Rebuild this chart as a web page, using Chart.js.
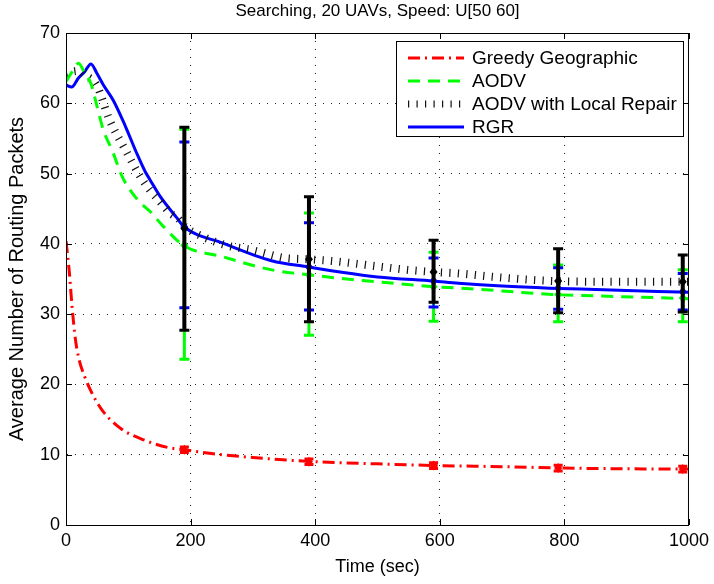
<!DOCTYPE html>
<html>
<head>
<meta charset="utf-8">
<script src="https://cdn.jsdelivr.net/npm/chart.js@4.4.1/dist/chart.umd.min.js"></script>
<style>
  html, body { margin: 0; padding: 0; background: #fff; }
</style>
</head>
<body>
<canvas id="canva" width="714" height="584"></canvas>
<script>
// values
var titleText = 'Searching, 20 UAVs, Speed: U[50 60]';
var xTicks = [0, 200, 400, 600, 800, 1000];
var yTicks = [0, 10, 20, 30, 40, 50, 60, 70];

var greedyT = [0, 5, 10, 15, 20, 30, 45, 60, 90, 125, 165, 190, 240, 300, 400, 500, 600, 700, 800, 900, 1000];
var greedyY = [40.4, 36.3, 30.8, 26.5, 23.9, 21.1, 18.2, 16.1, 13.6, 12.1, 11.0, 10.7, 10.1, 9.6, 9.0, 8.7, 8.45, 8.3, 8.1, 8.0, 7.95];

var aodvT = [0, 10, 20, 30, 40, 50, 60, 75, 90, 105, 120, 135, 155, 190, 250, 330, 390, 440, 500, 590, 630, 700, 780, 850, 1000];
var aodvY = [63.1, 64.5, 65.7, 64.3, 62.8, 59.5, 56.2, 53.1, 49.6, 47.4, 45.8, 44.6, 42.6, 39.7, 38.2, 36.3, 35.6, 35.1, 34.6, 33.9, 33.7, 33.3, 32.8, 32.6, 32.2];

var repairT = [0, 10, 20, 30, 49, 70, 97, 119, 135, 151, 167, 180, 190, 220, 257, 300, 322, 351, 391, 434, 500, 548, 590, 629, 700, 786, 900, 1000];
var repairY = [64.3, 64.5, 64.6, 64.0, 62.6, 57.6, 53.1, 49.6, 47.6, 46.0, 44.4, 43.6, 42.5, 41.0, 39.8, 39.1, 38.6, 38.0, 37.8, 37.5, 36.8, 36.3, 36.0, 35.8, 35.2, 34.7, 34.6, 34.6];

var rgrT = [0, 9, 20, 30, 40, 50, 60, 76, 95, 113, 127, 135, 150, 177, 190, 252, 330, 390, 440, 500, 590, 630, 700, 776, 850, 1000];
var rgrY = [62.6, 62.3, 63.6, 64.5, 65.6, 64.2, 62.6, 60.4, 56.8, 53.0, 50.3, 49.1, 46.9, 43.8, 42.4, 40.1, 37.6, 36.7, 36.0, 35.3, 34.7, 34.4, 34.0, 33.7, 33.5, 33.1];

// error bars
var errT = [190, 390, 590, 790, 990];
var greedyLo = [10.3, 8.6, 8.05, 7.7, 7.55];
var greedyHi = [11.1, 9.4, 8.85, 8.5, 8.35];
var greedyMid = [10.7, 9.0, 8.45, 8.1, 7.95];
var aodvLo = [23.6, 27.0, 29.0, 28.9, 28.9];
var aodvHi = [56.3, 44.4, 38.8, 37.0, 36.3];
var aodvMid = [39.8, 35.6, 33.9, 32.8, 32.3];
var repairLo = [27.7, 28.9, 31.7, 30.2, 30.3];
var repairHi = [56.6, 46.7, 40.5, 39.3, 38.4];
var repairMid = [42.2, 37.8, 36.0, 34.7, 34.6];
var rgrLo = [30.9, 30.6, 31.0, 30.7, 30.6];
var rgrHi = [54.5, 43.0, 38.0, 36.6, 35.8];
var rgrMid = [42.4, 36.7, 34.7, 33.7, 33.2];

var FONT = 'Liberation Sans, Arial, Helvetica, sans-serif';

function pts(t, y) {
  return t.map(function (v, i) { return { x: v, y: y[i] }; });
}

var series = [
  { label: 'Greedy Geographic', color: '#ff0000', dash: [12, 5, 2, 5], width: 3, data: pts(greedyT, greedyY) },
  { label: 'AODV', color: '#00ff00', dash: [12, 8], width: 3, data: pts(aodvT, aodvY) },
  { label: 'AODV with Local Repair', color: '#111111', dash: [1.2, 7.3], width: 8, data: pts(repairT, repairY) },
  { label: 'RGR', color: '#0000ff', dash: [], width: 3, data: pts(rgrT, rgrY) }
];

var errSets = [
  { lo: aodvLo, hi: aodvHi, mid: aodvMid, color: '#00ff00', w: 3, cap: 10 },
  { lo: rgrLo, hi: rgrHi, mid: rgrMid, color: '#0000ff', w: 2, cap: 10 },
  { lo: repairLo, hi: repairHi, mid: repairMid, color: '#000000', w: 4, cap: 10 },
  { lo: greedyLo, hi: greedyHi, mid: greedyMid, color: '#ff0000', w: 3, cap: 9 }
];

var errPlugin = {
  id: 'errbars',
  afterDatasetsDraw: function (chart) {
    var ctx = chart.ctx, xs = chart.scales.x, ys = chart.scales.y;
    ctx.save();
    errSets.forEach(function (s) {
      ctx.strokeStyle = s.color;
      ctx.fillStyle = s.color;
      errT.forEach(function (t, i) {
        var x = xs.getPixelForValue(t);
        var y1 = ys.getPixelForValue(s.lo[i]), y2 = ys.getPixelForValue(s.hi[i]);
        ctx.lineWidth = s.w;
        ctx.beginPath(); ctx.moveTo(x, y1); ctx.lineTo(x, y2); ctx.stroke();
        ctx.lineWidth = 3;
        ctx.beginPath();
        ctx.moveTo(x - s.cap / 2, y1); ctx.lineTo(x + s.cap / 2, y1);
        ctx.moveTo(x - s.cap / 2, y2); ctx.lineTo(x + s.cap / 2, y2);
        ctx.stroke();
        // centre marker
        var ym = ys.getPixelForValue(s.mid[i]);
        ctx.beginPath();
        ctx.moveTo(x, ym - 5); ctx.lineTo(x + 4, ym); ctx.lineTo(x, ym + 5); ctx.lineTo(x - 4, ym);
        ctx.closePath(); ctx.fill();
      });
    });
    ctx.restore();
  }
};

var framePlugin = {
  id: 'frame',
  afterDraw: function (chart) {
    var ctx = chart.ctx, a = chart.chartArea, xs = chart.scales.x, ys = chart.scales.y;
    ctx.save();
    ctx.strokeStyle = '#000';
    ctx.lineWidth = 1;
    ctx.strokeRect(a.left + 0.5, a.top + 0.5, a.right - a.left - 1, a.bottom - a.top);
    ctx.beginPath();
    xTicks.forEach(function (v) {
      var x = Math.round(xs.getPixelForValue(v)) + 0.5;
      ctx.moveTo(x, a.bottom); ctx.lineTo(x, a.bottom - 6);
      ctx.moveTo(x, a.top); ctx.lineTo(x, a.top + 6);
    });
    yTicks.forEach(function (v) {
      var y = Math.round(ys.getPixelForValue(v)) + 0.5;
      ctx.moveTo(a.left, y); ctx.lineTo(a.left + 6, y);
      ctx.moveTo(a.right, y); ctx.lineTo(a.right - 6, y);
    });
    ctx.stroke();

    // title
    ctx.fillStyle = '#000';
    ctx.font = '17px ' + FONT;
    ctx.textAlign = 'center';
    ctx.textBaseline = 'middle';
    ctx.fillText(titleText, (a.left + a.right) / 2, 11);

    // legend
    var lx = 396, ly = 41, lw = 287, lh = 95;
    ctx.fillStyle = '#fff';
    ctx.fillRect(lx, ly, lw, lh);
    ctx.strokeRect(lx + 0.5, ly + 0.5, lw, lh);
    ctx.font = '19px ' + FONT;
    ctx.textAlign = 'left';
    series.forEach(function (s, i) {
      var y = ly + 17 + i * 23;
      ctx.save();
      ctx.strokeStyle = s.color;
      ctx.lineWidth = s.width == 8 ? 7 : s.width;
      ctx.setLineDash(s.dash);
      ctx.beginPath(); ctx.moveTo(408, y); ctx.lineTo(464, y); ctx.stroke();
      ctx.restore();
      ctx.fillStyle = '#000';
      ctx.fillText(s.label, 472, y + 1);
    });
    ctx.restore();
  }
};

new Chart(document.getElementById('canva'), {
  type: 'line',
  data: {
    datasets: series.map(function (s) {
      return {
        label: s.label,
        data: s.data,
        borderColor: s.color,
        backgroundColor: s.color,
        borderWidth: s.width,
        borderDash: s.dash,
        pointRadius: 0,
        fill: false,
        cubicInterpolationMode: 'monotone'
      };
    })
  },
  options: {
    responsive: false,
    animation: false,
    devicePixelRatio: 1,
    layout: { padding: { top: 33, right: 24, left: 0, bottom: 0 } },
    plugins: { legend: { display: false }, title: { display: false }, tooltip: { enabled: false } },
    scales: {
      x: {
        type: 'linear', min: 0, max: 1000,
        afterFit: function (s) { s.height = 59; },
        afterBuildTicks: function (s) { s.ticks = xTicks.map(function (v) { return { value: v }; }); },
        grid: { color: '#222', drawTicks: false },
        border: { display: true, color: '#000', dash: [1, 7] },
        ticks: { color: '#000', padding: 5, maxRotation: 0, font: { family: FONT, size: 18 },
                 callback: function (v) { return String(v); } },
        title: { display: true, text: 'Time (sec)', color: '#000', padding: { top: 0, bottom: 6 }, font: { family: FONT, size: 18 } }
      },
      y: {
        min: 0, max: 70,
        afterFit: function (s) { s.width = 66; },
        afterBuildTicks: function (s) { s.ticks = yTicks.map(function (v) { return { value: v }; }); },
        grid: { color: '#222', drawTicks: false },
        border: { display: true, color: '#000', dash: [1, 7] },
        ticks: { color: '#000', padding: 6, font: { family: FONT, size: 18 },
                 callback: function (v) { return String(v); } },
        title: { display: true, text: 'Average Number of Routing Packets', color: '#000', padding: { top: 5, bottom: 0 }, font: { family: FONT, size: 20 } }
      }
    }
  },
  plugins: [errPlugin, framePlugin]
});
</script>
</body>
</html>
